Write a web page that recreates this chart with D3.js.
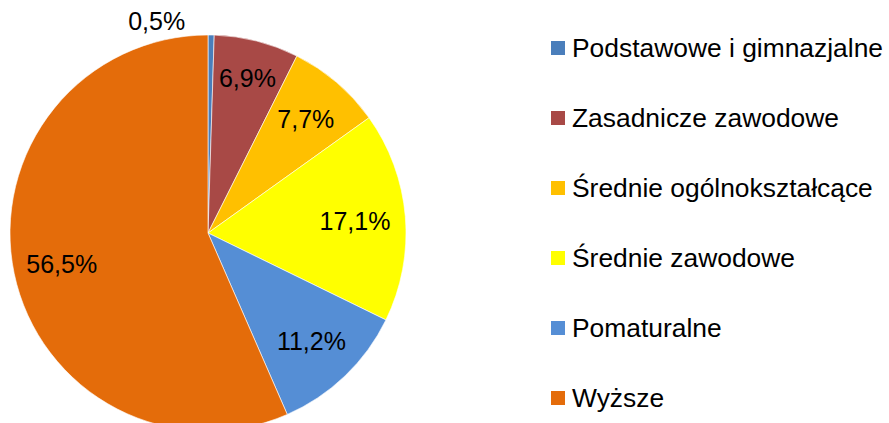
<!DOCTYPE html>
<html><head><meta charset="utf-8">
<script src="https://cdn.jsdelivr.net/npm/d3@7"></script>
<style>html,body{margin:0;padding:0;background:#fff;overflow:hidden}svg{display:block}</style>
</head><body>
<svg id="chart" width="889" height="423"></svg>
<script>
const categories = ["Podstawowe i gimnazjalne","Zasadnicze zawodowe","Średnie ogólnokształcące","Średnie zawodowe","Pomaturalne","Wyższe"];
const values = [0.5, 6.9, 7.7, 17.1, 11.2, 56.5];
const labels = ["0,5%","6,9%","7,7%","17,1%","11,2%","56,5%"];
const colors = ["#4a7ebb","#a84946","#ffc000","#ffff00","#558ed5","#e46c0a"];
const labelRadiusFactor = [null, 0.81, 0.76, 0.745, 0.755, 0.755];

const svg = d3.select("#chart");
const cx = 208, cy = 233, R = 198;
const font = "'Liberation Sans', Arial, sans-serif";

const pie = d3.pie().sort(null).value(d => d).startAngle(0).endAngle(2*Math.PI);
const arcs = pie(values);
const arc = d3.arc().innerRadius(0).outerRadius(R);

const g = svg.append("g").attr("transform", `translate(${cx},${cy})`);
g.selectAll("path").data(arcs).join("path")
  .attr("d", arc)
  .attr("fill", (d,i) => colors[i])
  .attr("stroke", "#fff")
  .attr("stroke-width", 0.6);

g.selectAll("text.lbl").data(arcs).join("text")
  .attr("class","lbl")
  .each(function(d,i){
    const a = (d.startAngle + d.endAngle)/2;
    const t = d3.select(this);
    if (labelRadiusFactor[i] == null) {
      const r = R + 4;
      const x = Math.sin(a)*r, y = -Math.cos(a)*r;
      t.attr("x", x - 26).attr("y", y - 1).attr("text-anchor","end");
    } else {
      const r = R*labelRadiusFactor[i];
      t.attr("x", Math.sin(a)*r).attr("y", -Math.cos(a)*r + 9).attr("text-anchor","middle");
    }
  })
  .attr("font-family", font)
  .attr("font-size", 25)
  .attr("fill", "#000")
  .text((d,i) => labels[i]);

const legend = svg.append("g");
const ly = d3.scalePoint().domain(categories).range([48, 398]);
const items = legend.selectAll("g").data(categories).join("g")
  .attr("transform", d => `translate(551,${ly(d)})`);
items.append("rect").attr("x",0).attr("y",-7).attr("width",14).attr("height",14)
  .attr("fill",(d,i)=>colors[i]);
items.append("text").attr("x",21).attr("y",9)
  .attr("font-family", font).attr("font-size",26.4).attr("fill","#000")
  .text(d=>d);
</script>
</body></html>
